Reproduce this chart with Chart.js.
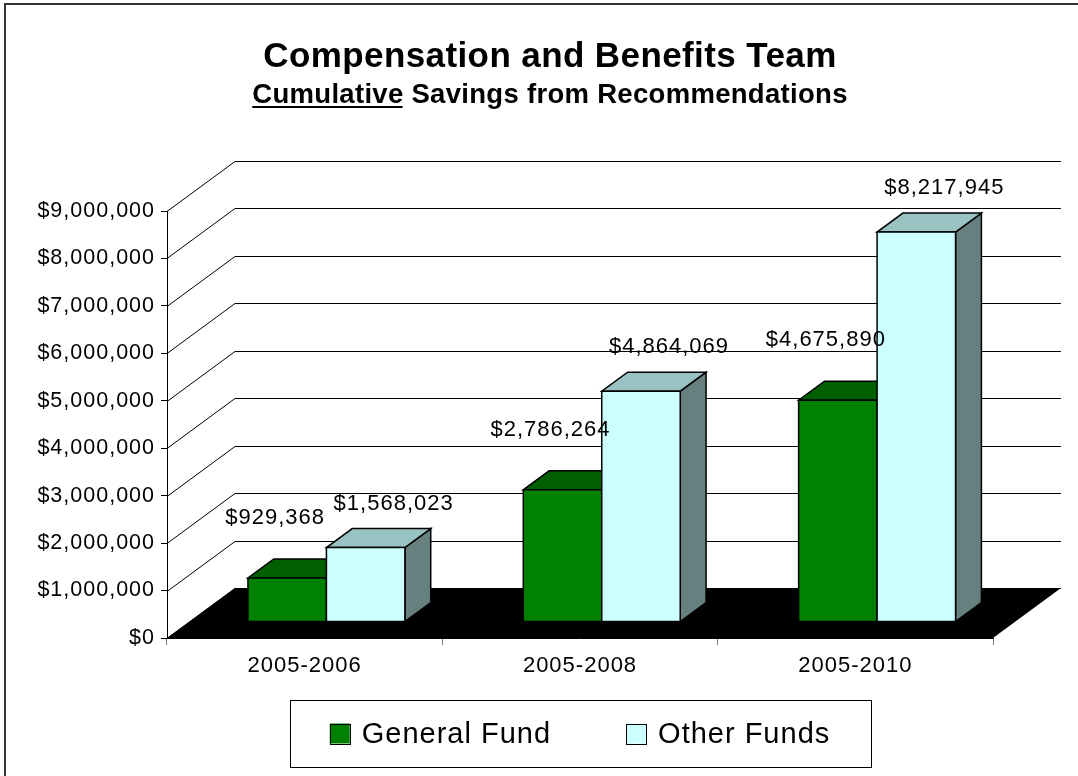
<!DOCTYPE html>
<html>
<head>
<meta charset="utf-8">
<title>Compensation and Benefits Team</title>
<script src="https://cdn.jsdelivr.net/npm/chart.js@4.4.1/dist/chart.umd.min.js"></script>
<style>
  body { margin: 0; background: #fff; }
  #wrap { width: 1078px; height: 776px; }
</style>
</head>
<body>
<div id="wrap"><canvas id="savings-chart"></canvas></div>
<script>
const periods = ['2005-2006', '2005-2008', '2005-2010']
const generalFund = [929368, 2786264, 4675890]
const otherFunds = [1568023, 4864069, 8217945]
const seriesNames = ['General Fund', 'Other Funds']
const yMax = 9000000
const yStep = 1000000
const titleText = 'Compensation and Benefits Team'
const subtitleLead = 'Cumulative'
const subtitleRest = ' Savings from Recommendations'

const font = '"Liberation Sans", Arial, sans-serif'
// 3d look: depth of the walls, and where the bars sit inside that depth
const depth = {x: 68, y: -50}
const barFront = 0.32
const barBack = 0.70

const money = v => '$' + Number(v).toLocaleString('en-US')

function poly(ctx, pts, fill) {
    ctx.beginPath()
    ctx.moveTo(pts[0][0], pts[0][1])
    for (let i = 1; i < pts.length; i++) ctx.lineTo(pts[i][0], pts[i][1])
    ctx.closePath()
    ctx.fillStyle = fill
    ctx.fill()
    ctx.stroke()
}

const threeD = {
    id: 'threeD',
    beforeUpdate(chart) { chart.ctx.letterSpacing = '1px' },
    beforeDraw(chart) { chart.ctx.letterSpacing = '1px' },

    beforeDatasetsDraw(chart) {
        const ctx = chart.ctx
        const yScale = chart.scales.y
        const {left, right, bottom} = chart.chartArea
        ctx.save()

        //// side wall + back wall grid ////
        ctx.strokeStyle = '#000'
        ctx.lineWidth = 1
        yScale.ticks.forEach(t => {
            const y = Math.round(yScale.getPixelForValue(t.value)) + 0.5
            ctx.beginPath()
            ctx.moveTo(left, y)
            ctx.lineTo(left + depth.x, y + depth.y)
            ctx.lineTo(right + depth.x, y + depth.y)
            ctx.stroke()
        })

        //// floor ////
        ctx.beginPath()
        ctx.moveTo(left, bottom)
        ctx.lineTo(right, bottom)
        ctx.lineTo(right + depth.x, bottom + depth.y)
        ctx.lineTo(left + depth.x, bottom + depth.y)
        ctx.closePath()
        ctx.fillStyle = '#000'
        ctx.fill()

        //// bars ////
        const fx = depth.x * barFront, fy = depth.y * barFront
        const bx = depth.x * barBack, by = depth.y * barBack
        ctx.lineWidth = 1.5
        ctx.lineJoin = 'miter'
        ctx.strokeStyle = '#000'
        periods.forEach((p, j) => {
            chart.data.datasets.forEach((ds, i) => {
                const el = chart.getDatasetMeta(i).data[j]
                const x0 = el.x - el.width / 2, x1 = el.x + el.width / 2
                const top = el.y, base = el.base
                poly(ctx, [[x1 + fx, top + fy], [x1 + bx, top + by], [x1 + bx, base + by], [x1 + fx, base + fy]], ds.sideColor)
                poly(ctx, [[x0 + fx, top + fy], [x1 + fx, top + fy], [x1 + bx, top + by], [x0 + bx, top + by]], ds.topColor)
                poly(ctx, [[x0 + fx, top + fy], [x1 + fx, top + fy], [x1 + fx, base + fy], [x0 + fx, base + fy]], ds.backgroundColor)
            })
        })
        ctx.restore()
    },

    // bars are drawn above as boxes
    beforeDatasetDraw() { return false },

    afterDraw(chart) {
        const ctx = chart.ctx
        const area = chart.chartArea
        const fx = depth.x * barFront, fy = depth.y * barFront
        ctx.save()

        //// value labels ////
        ctx.font = '22px ' + font
        ctx.letterSpacing = '1px'
        ctx.fillStyle = '#000'
        ctx.textAlign = 'center'
        ctx.textBaseline = 'middle'
        chart.data.datasets.forEach((ds, i) => {
            chart.getDatasetMeta(i).data.forEach((el, j) => {
                ctx.fillText(money(ds.data[j]), el.x + fx + ds.labelDx, el.y + fy + ds.labelDy)
            })
        })

        //// titles ////
        const cx = 550
        ctx.textBaseline = 'alphabetic'
        ctx.font = 'bold 35px ' + font
        ctx.letterSpacing = '0.4px'
        ctx.fillText(titleText, cx, 67)

        ctx.font = 'bold 27.5px ' + font
        ctx.letterSpacing = '0.3px'
        ctx.textAlign = 'left'
        const leadW = ctx.measureText(subtitleLead).width
        const fullW = ctx.measureText(subtitleLead + subtitleRest).width
        const sx = cx - fullW / 2
        ctx.fillText(subtitleLead, sx, 103)
        ctx.fillText(subtitleRest, sx + leadW, 103)
        ctx.fillRect(sx, 106, leadW - 1, 2)

        //// legend ////
        ctx.font = '29px ' + font
        ctx.letterSpacing = '1px'
        ctx.textBaseline = 'middle'
        const box = 20, textGap = 12, itemGap = 75, pad = 40
        const items = chart.data.datasets.map(ds => ({text: ds.label, color: ds.backgroundColor, w: ctx.measureText(ds.label).width}))
        const inner = items.reduce((s, it) => s + box + textGap + it.w, 0) + itemGap * (items.length - 1)
        let x = (area.left + area.right) / 2 - inner / 2
        const lTop = chart.height - 76, lH = 67, mid = lTop + lH / 2
        ctx.strokeStyle = '#000'
        ctx.lineWidth = 1
        ctx.strokeRect(Math.round(x - pad) + 0.5, lTop + 0.5, Math.round(inner + 2 * pad), lH)
        items.forEach(it => {
            ctx.fillStyle = it.color
            ctx.fillRect(x, mid - box / 2, box, box)
            ctx.strokeRect(Math.round(x) + 0.5, Math.round(mid - box / 2) + 0.5, box, box)
            ctx.fillStyle = '#000'
            ctx.fillText(it.text, x + box + textGap, mid + 1)
            x += box + textGap + it.w + itemGap
        })

        //// outer frame ////
        ctx.strokeStyle = '#333'
        ctx.lineWidth = 2
        ctx.strokeRect(5, 4, chart.width + 20, chart.height + 20)
        ctx.restore()
    }
}

new Chart(document.getElementById('savings-chart'), {
    type: 'bar',
    data: {
        labels: periods,
        datasets: [{
            label: seriesNames[0],
            data: generalFund,
            backgroundColor: '#008000',
            topColor: '#006000',
            sideColor: '#004a00',
            labelDx: -12,
            labelDy: -60
        }, {
            label: seriesNames[1],
            data: otherFunds,
            backgroundColor: '#CCFFFF',
            topColor: '#99C2C2',
            sideColor: '#667F7F',
            labelDx: 28,
            labelDy: -44
        }]
    },
    options: {
        responsive: true,
        maintainAspectRatio: false,
        devicePixelRatio: 1,
        animation: false,
        categoryPercentage: 0.57,
        barPercentage: 1,
        layout: {padding: {top: 211, right: 85, bottom: 88, left: 0}},
        plugins: {
            legend: {display: false},
            title: {display: false},
            tooltip: {enabled: false}
        },
        scales: {
            x: {
                ticks: {color: '#000', font: {size: 22, family: font}, padding: 8},
                grid: {drawOnChartArea: false, tickLength: 7, color: '#808080'},
                border: {color: '#000'},
                afterFit: s => { s.height = 50 }
            },
            y: {
                min: 0,
                max: yMax,
                ticks: {stepSize: yStep, color: '#000', font: {size: 21.5, family: font}, padding: 6, callback: v => money(v)},
                grid: {drawOnChartArea: false, tickLength: 6, color: '#000'},
                border: {color: '#000'},
                afterFit: s => { s.width = 167 }
            }
        }
    },
    plugins: [threeD]
})
</script>
</body>
</html>
